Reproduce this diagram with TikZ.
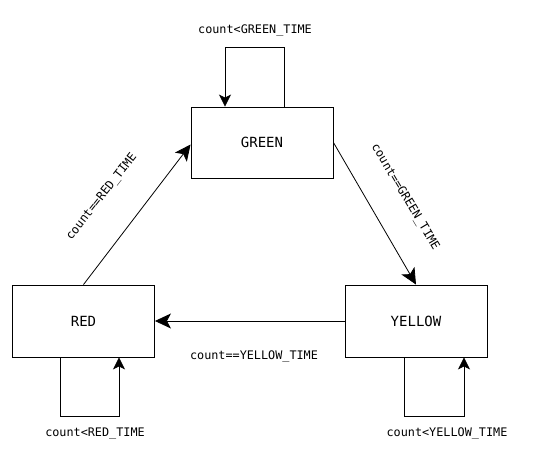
\documentclass[tikz,border=0pt]{standalone}
\usepackage{fontspec}
\newfontfamily\statefont{DejaVu Sans Mono}
\usetikzlibrary{arrows.meta}

\tikzset{
  state/.style={draw, line width=0.9pt, minimum width=142pt, minimum height=71pt, inner sep=0pt, font=\statefont\fontsize{14}{16}\selectfont},
  trans/.style={line width=0.8pt, -{Stealth[length=16pt,width=15pt,inset=4pt]}},
  selfloop/.style={line width=0.8pt, -{Stealth[length=12pt,width=12pt,inset=3pt]}},
  cond/.style={font=\statefont\fontsize{11.8}{14}\selectfont, inner sep=0pt},
}

\begin{document}
\begin{tikzpicture}[x=1pt,y=-1pt]
\useasboundingbox (0,0) rectangle (538,463);

\def\loopdepth{59}

\node[state] (green) at (262,142.5) {GREEN};
\node[state, minimum height=72pt] (red) at (83.5,321) {RED};
\node[state, minimum height=72pt] (yellow) at (416,321) {YELLOW};

% self loops
\draw[selfloop] ([xshift=22pt]green.north) -- ++(0,-\loopdepth) -| ([xshift=-37pt]green.north);
\draw[selfloop] ([xshift=-23.5pt]red.south) -- ++(0,\loopdepth) -| ([xshift=35.5pt]red.south);
\draw[selfloop] ([xshift=-12pt]yellow.south) -- ++(0,\loopdepth) -| ([xshift=48pt]yellow.south);

% transitions
\draw[trans] (red.north) -- ([yshift=-2pt]green.west);
\draw[trans] (green.east) -- (yellow.north);
\draw[trans] (yellow.west) -- (red.east);

\node[cond] (lgreen) at (255,31) {count<GREEN\_TIME};
\node[cond] (lred) at (95,434) {count<RED\_TIME};
\node[cond] (lyellow) at (447,434) {count<YELLOW\_TIME};

\node[cond, rotate=52] (lredgreen) at (102,197) {count==RED\_TIME};
\node[cond, rotate=-59] (lgreenyellow) at (405,197) {count==GREEN\_TIME};
\node[cond] (lyellowred) at (254,357) {count==YELLOW\_TIME};

\end{tikzpicture}
\end{document}
